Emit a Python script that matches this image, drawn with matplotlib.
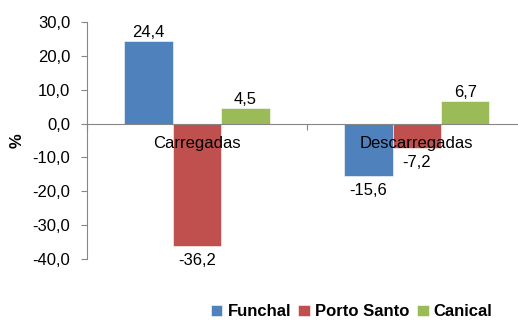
import matplotlib.pyplot as plt
import numpy as np

plt.rcParams['font.family'] = ['Liberation Sans', 'DejaVu Sans']

categories = ["Carregadas", "Descarregadas"]
series = ["Funchal", "Porto Santo", "Canical"]
funchal = [24.4, -15.6]
porto_santo = [-36.2, -7.2]
canical = [4.5, 6.7]
colors = ["#4F81BD", "#C0504D", "#9BBB59"]
yticks = [-40, -30, -20, -10, 0, 10, 20, 30]

fig = plt.figure(figsize=(5.18, 3.23), dpi=100)
ax = fig.add_axes([0.168, 0.198, 0.849, 0.734])

x = np.arange(len(categories))
w = 0.22
fs = 12
for i, (vals, name, c) in enumerate(zip([funchal, porto_santo, canical], series, colors)):
    pos = x + (i - 1) * w
    ax.bar(pos, vals, w, color=c, label=name, edgecolor="white", linewidth=0.4)
    for px, v in zip(pos, vals):
        lab = ("%.1f" % v).replace(".", ",")
        if v >= 0:
            ax.text(px, v + 0.3, lab, ha="center", va="bottom", fontsize=fs)
        else:
            ax.text(px, v - 2.0, lab, ha="center", va="top", fontsize=fs)

ax.set_xlim(-0.5, 1.5)
ax.set_ylim(-40, 30)
ax.set_yticks(yticks)
ax.set_yticklabels([("%.1f" % t).replace(".", ",") for t in yticks], fontsize=fs)
ax.set_xticks([-0.5, 0.5, 1.5])
ax.set_xticklabels([])
for xi, cat in zip(x, categories):
    ax.text(xi, -6.0, cat, ha="center", va="center", fontsize=fs)

ax.spines["top"].set_visible(False)
ax.spines["right"].set_visible(False)
ax.spines["bottom"].set_position(("data", 0))
ax.spines["left"].set_color("#868686")
ax.spines["bottom"].set_color("#868686")
ax.tick_params(axis="both", color="#868686", length=4, width=0.8)
ax.tick_params(axis="y", pad=8)

ax.set_ylabel("%", fontsize=12, fontweight="bold", labelpad=6)

leg = fig.legend(loc="lower left", bbox_to_anchor=(0.378, -0.035), ncol=3, frameon=False,
                 prop={"weight": "bold", "size": 12}, handlelength=0.7, handleheight=0.7,
                 handletextpad=0.3, columnspacing=0.45)

fig.savefig("out.png", dpi=100)
